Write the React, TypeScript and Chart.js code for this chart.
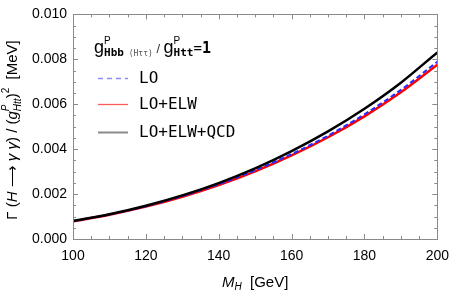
import React, { useEffect, useRef } from "react";
import { Chart, registerables } from "chart.js";
Chart.register(...registerables);

const masses = [100, 110, 120, 130, 140, 150, 160, 170, 180, 190, 200];
const gammaLO = [0.0008, 0.00109, 0.00146, 0.00191, 0.00244, 0.00306, 0.00378, 0.0046, 0.00555, 0.00664, 0.00789];
const gammaLOELW = [0.00079, 0.00108, 0.00144, 0.00188, 0.0024, 0.00301, 0.00372, 0.00453, 0.00546, 0.00653, 0.00776];
const gammaLOELWQCD = [0.0008, 0.0011, 0.00148, 0.00194, 0.00249, 0.00314, 0.00391, 0.00479, 0.0058, 0.00696, 0.00831];
const xTicks = [100, 120, 140, 160, 180, 200];
const yTicks = [0, 0.002, 0.004, 0.006, 0.008, 0.01];
const legendLabels = ["LO", "LO+ELW", "LO+ELW+QCD"];

type Seg = { t: string; f: string; dy?: number; c?: string; stay?: boolean };

function segWidth(ctx: CanvasRenderingContext2D, segs: Seg[]) {
  let w = 0;
  for (const s of segs) {
    ctx.font = s.f;
    if (!s.stay) w += ctx.measureText(s.t).width;
  }
  return w;
}

function drawSegs(ctx: CanvasRenderingContext2D, segs: Seg[], x: number, y: number) {
  let cx = x;
  for (const s of segs) {
    ctx.font = s.f;
    ctx.fillStyle = s.c || "#000";
    ctx.fillText(s.t, cx, y + (s.dy || 0));
    if (!s.stay) cx += ctx.measureText(s.t).width;
  }
}

const overlay = {
  id: "overlay",
  afterDraw(chart: any) {
    const ctx: CanvasRenderingContext2D = chart.ctx;
    const xs = chart.scales.x;
    const ys = chart.scales.y;
    const { left, right, top, bottom } = chart.chartArea;
    ctx.save();
    // frame
    ctx.strokeStyle = "#8a8a8a";
    ctx.lineWidth = 1;
    ctx.strokeRect(Math.round(left) + 0.5, Math.round(top) + 0.5, Math.round(right - left), Math.round(bottom - top));
    // ticks
    ctx.beginPath();
    for (let v = 100; v <= 200; v += 5) {
      const px = Math.round(xs.getPixelForValue(v)) + 0.5;
      const major = xTicks.includes(v);
      const len = major ? 5 : 3;
      ctx.moveTo(px, bottom);
      ctx.lineTo(px, bottom - len);
      ctx.moveTo(px, top);
      ctx.lineTo(px, top + len);
    }
    for (let i = 0; i <= 20; i++) {
      const v = i * 0.0005;
      const py = Math.round(ys.getPixelForValue(v)) + 0.5;
      const major = i % 4 === 0;
      const len = major ? 5 : 3;
      ctx.moveTo(left, py);
      ctx.lineTo(left + len, py);
      ctx.moveTo(right, py);
      ctx.lineTo(right - len, py);
    }
    ctx.stroke();

    // legend title
    ctx.textBaseline = "alphabetic";
    ctx.textAlign = "left";
    const sans = "Liberation Sans";
    const mono = "DejaVu Sans Mono";
    const title: Seg[] = [
      { t: "g", f: `18px ${sans}` },
      { t: "P", f: `10px ${sans}`, dy: -9, stay: true },
      { t: "Hbb", f: `bold 11px ${mono}`, dy: 3 },
      { t: " (H\u03C4\u03C4)", f: `8px ${mono}`, dy: 3, c: "#555" },
      { t: " / ", f: `13px ${sans}`, c: "#333" },
      { t: "g", f: `18px ${sans}` },
      { t: "P", f: `10px ${sans}`, dy: -9, stay: true },
      { t: "Htt", f: `bold 11px ${mono}`, dy: 3 },
      { t: "=", f: `14px ${mono}` },
      { t: "1", f: `bold 15px ${mono}` },
    ];
    drawSegs(ctx, title, 94, 53);

    // legend entries
    const ly = [78, 104, 132];
    const lcol = ["#8c8cff", "#ff5a5a", "#8a8a8a"];
    for (let i = 0; i < 3; i++) {
      ctx.beginPath();
      ctx.strokeStyle = lcol[i];
      ctx.lineWidth = i === 2 ? 2 : 1.3;
      ctx.setLineDash(i === 0 ? [5, 4] : []);
      ctx.moveTo(98, ly[i] + 0.5);
      ctx.lineTo(128, ly[i] + 0.5);
      ctx.stroke();
    }
    ctx.setLineDash([]);
    ctx.font = `16px ${mono}`;
    ctx.fillStyle = "#000";
    ctx.textBaseline = "middle";
    for (let i = 0; i < 3; i++) ctx.fillText(legendLabels[i], 139, ly[i] + 1);

    // x title
    ctx.textBaseline = "alphabetic";
    const xt: Seg[] = [
      { t: "M", f: `italic 15px ${sans}` },
      { t: "H", f: `italic 10px ${sans}`, dy: 3 },
      { t: "  [GeV]", f: `15px ${sans}` },
    ];
    const xw = segWidth(ctx, xt);
    drawSegs(ctx, xt, (left + right) / 2 - xw / 2, 287);

    // y title
    const yt: Seg[] = [
      { t: "\u0393 (", f: `15px ${sans}` },
      { t: "H", f: `italic 15px ${sans}` },
      { t: " \u27F6 ", f: `15px ${sans}` },
      { t: "\u03B3 \u03B3", f: `italic 15px ${sans}` },
      { t: ") / (", f: `15px ${sans}` },
      { t: "g", f: `italic 15px ${sans}` },
      { t: "P", f: `italic 10px ${sans}`, dy: -8, stay: true },
      { t: "Htt", f: `italic 10px ${sans}`, dy: 4 },
      { t: ")", f: `15px ${sans}` },
      { t: "2", f: `10px ${sans}`, dy: -8 },
      { t: "  [MeV]", f: `15px ${sans}` },
    ];
    const yw = segWidth(ctx, yt);
    ctx.translate(17, 130);
    ctx.rotate(-Math.PI / 2);
    drawSegs(ctx, yt, -yw / 2, 0);
    ctx.restore();
  },
};

export default function App() {
  const ref = useRef<HTMLCanvasElement>(null);
  useEffect(() => {
    document.body.style.margin = "0";
    const mk = (arr: number[]) => masses.map((m, i) => ({ x: m, y: arr[i] }));
    const chart = new Chart(ref.current!, {
      type: "line",
      data: {
        datasets: [
          { label: legendLabels[2], data: mk(gammaLOELWQCD), borderColor: "#000000", borderWidth: 2.5, order: 0 },
          { label: legendLabels[0], data: mk(gammaLO), borderColor: "#2a2aff", borderWidth: 2, borderDash: [5, 3], order: 1 },
          { label: legendLabels[1], data: mk(gammaLOELW), borderColor: "#ff0000", borderWidth: 2.5, order: 2 },
        ],
      },
      options: {
        animation: false,
        responsive: false,
        devicePixelRatio: 1,
        elements: { point: { radius: 0 }, line: { tension: 0.4, cubicInterpolationMode: "monotone" } },
        layout: { padding: { top: 11, right: 14, left: 0, bottom: 0 } },
        plugins: { legend: { display: false }, tooltip: { enabled: false } },
        scales: {
          x: {
            type: "linear",
            min: 100,
            max: 200,
            grid: { display: false, drawTicks: false },
            border: { display: false },
            afterBuildTicks: (s: any) => { s.ticks = xTicks.map((v) => ({ value: v })); },
            afterFit: (s: any) => { s.height = 54; },
            ticks: { font: { family: "Liberation Sans", size: 14 }, color: "#000", padding: 9, maxRotation: 0 },
          },
          y: {
            min: 0,
            max: 0.01,
            grid: { display: false, drawTicks: false },
            border: { display: false },
            afterBuildTicks: (s: any) => { s.ticks = yTicks.map((v) => ({ value: v })); },
            afterFit: (s: any) => { s.width = 73; },
            ticks: {
              font: { family: "Liberation Sans", size: 14 },
              color: "#000",
              padding: 6,
              callback: (v: any) => Number(v).toFixed(3),
            },
          },
        },
      },
      plugins: [overlay],
    });
    return () => chart.destroy();
  }, []);
  return (
    <div style={{ position: "absolute", left: 0, top: 0, width: 458, height: 293 }}>
      <canvas ref={ref} width={458} height={293} style={{ width: 458, height: 293 }} />
    </div>
  );
}
